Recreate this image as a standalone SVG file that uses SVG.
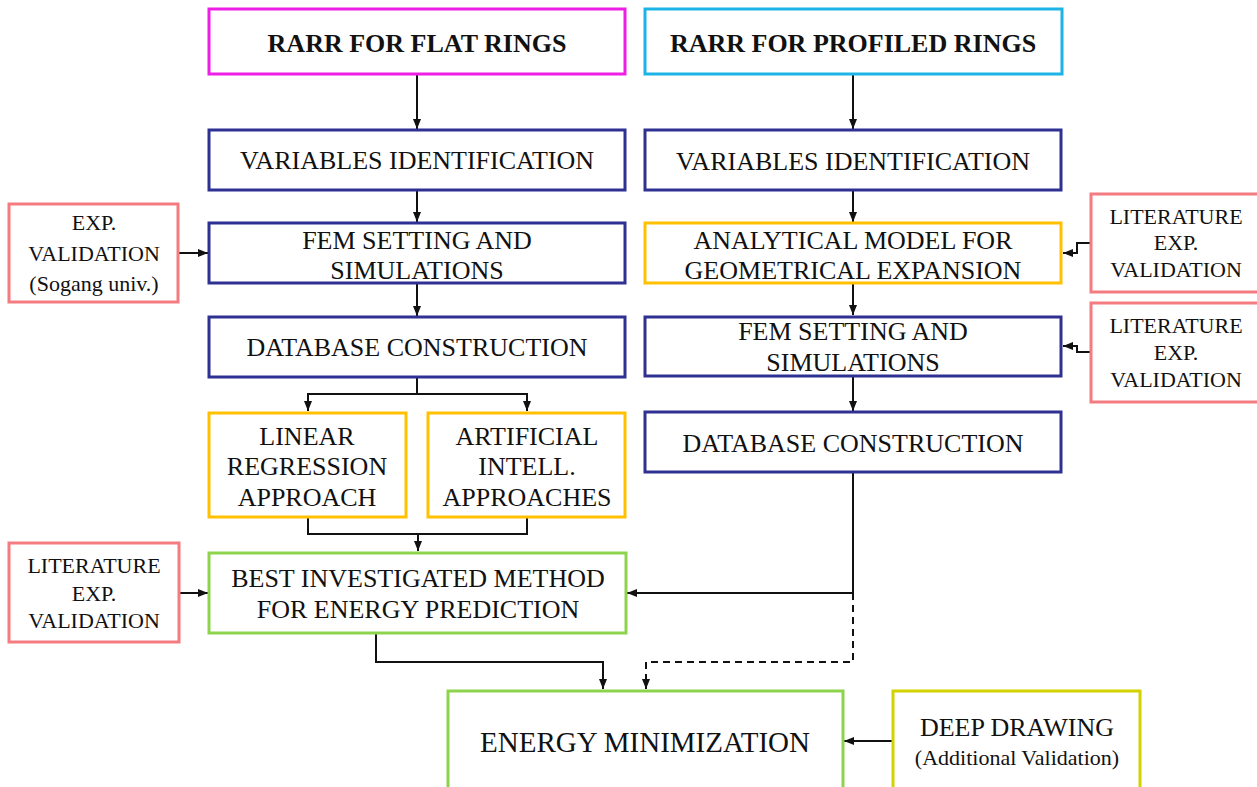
<svg xmlns="http://www.w3.org/2000/svg" width="1257" height="787" viewBox="0 0 1257 787">
  <style>
    .box { fill: #ffffff; stroke-width: 3; }
    .magenta { stroke: #ee1ee6; }
    .cyan { stroke: #1cb4e6; }
    .navy { stroke: #2e3192; }
    .amber { stroke: #ffc000; }
    .green { stroke: #8ed34d; }
    .pink { stroke: #f47c80; }
    .olive { stroke: #d2d200; }
    text { font-family: "Liberation Serif", "Times New Roman", serif; fill: #111111; text-anchor: middle; }
    .title { font-size: 26px; font-weight: bold; }
    .main { font-size: 26px; }
    .side { font-size: 22px; }
    .big { font-size: 29px; }
    .wire { fill: none; stroke: #111111; stroke-width: 2; }
    .dash { stroke-dasharray: 7 5; }
  </style>
  <defs>
    <marker id="arrow" viewBox="0 0 10 10" refX="10" refY="5" markerWidth="10" markerHeight="10" markerUnits="userSpaceOnUse" orient="auto">
      <path d="M0,1 L10,5 L0,9 z" fill="#111111"/>
    </marker>
  </defs>
  <rect width="1257" height="787" fill="#ffffff"/>

  <!-- flow connectors -->
  <g id="connectors">
    <!-- flat-ring column -->
    <path class="wire" d="M417,74 V129" marker-end="url(#arrow)"/>
    <path class="wire" d="M417,190 V222" marker-end="url(#arrow)"/>
    <path class="wire" d="M417,283 V316" marker-end="url(#arrow)"/>
    <path class="wire" d="M417,377 V394 H308 V411" marker-end="url(#arrow)"/>
    <path class="wire" d="M417,394 H527 V411" marker-end="url(#arrow)"/>
    <path class="wire" d="M308,517 V534 H527 V517"/>
    <path class="wire" d="M418,534 V551" marker-end="url(#arrow)"/>
    <path class="wire" d="M178,253 H208" marker-end="url(#arrow)"/>
    <path class="wire" d="M179,593 H208" marker-end="url(#arrow)"/>
    <path class="wire" d="M376,633 V662 H603 V689" marker-end="url(#arrow)"/>
    <!-- profiled-ring column -->
    <path class="wire" d="M853,74 V129" marker-end="url(#arrow)"/>
    <path class="wire" d="M853,190 V222" marker-end="url(#arrow)"/>
    <path class="wire" d="M853,283 V315" marker-end="url(#arrow)"/>
    <path class="wire" d="M853,376 V411" marker-end="url(#arrow)"/>
    <path class="wire" d="M1091,243 H1077 V253 H1063" marker-end="url(#arrow)"/>
    <path class="wire" d="M1091,352 H1077 V346 H1063" marker-end="url(#arrow)"/>
    <path class="wire" d="M853,472 V593 H627" marker-end="url(#arrow)"/>
    <path class="wire dash" d="M853,593 V662 H646 V689" marker-end="url(#arrow)"/>
    <!-- deep drawing feedback -->
    <path class="wire" d="M893,741 H844" marker-end="url(#arrow)"/>
  </g>

  <g id="flat-title">
    <rect class="box magenta" x="209" y="9" width="416" height="65"/>
    <text class="title" x="417" y="52">RARR FOR FLAT RINGS</text>
  </g>
  <g id="profiled-title">
    <rect class="box cyan" x="645" y="9" width="417" height="65"/>
    <text class="title" x="853" y="52">RARR FOR PROFILED RINGS</text>
  </g>

  <g id="flat-variables">
    <rect class="box navy" x="209" y="130" width="416" height="60"/>
    <text class="main" x="417" y="169">VARIABLES IDENTIFICATION</text>
  </g>
  <g id="profiled-variables">
    <rect class="box navy" x="645" y="130" width="416" height="60"/>
    <text class="main" x="853" y="170">VARIABLES IDENTIFICATION</text>
  </g>

  <g id="flat-exp-validation">
    <rect class="box pink" x="9" y="204" width="169" height="98"/>
    <text class="side" x="94" y="230">EXP.</text>
    <text class="side" x="94" y="261">VALIDATION</text>
    <text class="side" x="94" y="291">(Sogang univ.)</text>
  </g>

  <g id="flat-fem">
    <rect class="box navy" x="209" y="223" width="416" height="60"/>
    <text class="main" x="417" y="249">FEM SETTING AND</text>
    <text class="main" x="417" y="279">SIMULATIONS</text>
  </g>

  <g id="analytical-model">
    <rect class="box amber" x="645" y="223" width="416" height="60"/>
    <text class="main" x="853" y="249">ANALYTICAL MODEL FOR</text>
    <text class="main" x="853" y="279">GEOMETRICAL EXPANSION</text>
  </g>

  <g id="profiled-literature-1">
    <rect class="box pink" x="1091" y="194" width="170" height="98"/>
    <text class="side" x="1176" y="224">LITERATURE</text>
    <text class="side" x="1176" y="250">EXP.</text>
    <text class="side" x="1176" y="277">VALIDATION</text>
  </g>

  <g id="profiled-fem">
    <rect class="box navy" x="645" y="317" width="416" height="59"/>
    <text class="main" x="853" y="340">FEM SETTING AND</text>
    <text class="main" x="853" y="371">SIMULATIONS</text>
  </g>

  <g id="profiled-literature-2">
    <rect class="box pink" x="1091" y="303" width="170" height="99"/>
    <text class="side" x="1176" y="333">LITERATURE</text>
    <text class="side" x="1176" y="360">EXP.</text>
    <text class="side" x="1176" y="387">VALIDATION</text>
  </g>

  <g id="flat-database">
    <rect class="box navy" x="209" y="317" width="416" height="60"/>
    <text class="main" x="417" y="356">DATABASE CONSTRUCTION</text>
  </g>

  <g id="profiled-database">
    <rect class="box navy" x="645" y="412" width="416" height="60"/>
    <text class="main" x="853" y="452">DATABASE CONSTRUCTION</text>
  </g>

  <g id="linear-regression">
    <rect class="box amber" x="209" y="413" width="197" height="104"/>
    <text class="main" x="307" y="445">LINEAR</text>
    <text class="main" x="307" y="475">REGRESSION</text>
    <text class="main" x="307" y="506">APPROACH</text>
  </g>

  <g id="ai-approaches">
    <rect class="box amber" x="428" y="413" width="197" height="104"/>
    <text class="main" x="527" y="445">ARTIFICIAL</text>
    <text class="main" x="527" y="475">INTELL.</text>
    <text class="main" x="527" y="506">APPROACHES</text>
  </g>

  <g id="flat-literature">
    <rect class="box pink" x="9" y="543" width="170" height="99"/>
    <text class="side" x="94" y="573">LITERATURE</text>
    <text class="side" x="94" y="601">EXP.</text>
    <text class="side" x="94" y="628">VALIDATION</text>
  </g>

  <g id="best-method">
    <rect class="box green" x="209" y="553" width="417" height="80"/>
    <text class="main" x="418" y="587">BEST INVESTIGATED METHOD</text>
    <text class="main" x="418" y="618">FOR ENERGY PREDICTION</text>
  </g>

  <g id="energy-minimization">
    <rect class="box green" x="448" y="691" width="395" height="110"/>
    <text class="big" x="645" y="752">ENERGY MINIMIZATION</text>
  </g>

  <g id="deep-drawing">
    <rect class="box olive" x="893" y="691" width="247" height="110"/>
    <text class="main" x="1017" y="736">DEEP DRAWING</text>
    <text class="side" x="1017" y="765">(Additional Validation)</text>
  </g>
</svg>
